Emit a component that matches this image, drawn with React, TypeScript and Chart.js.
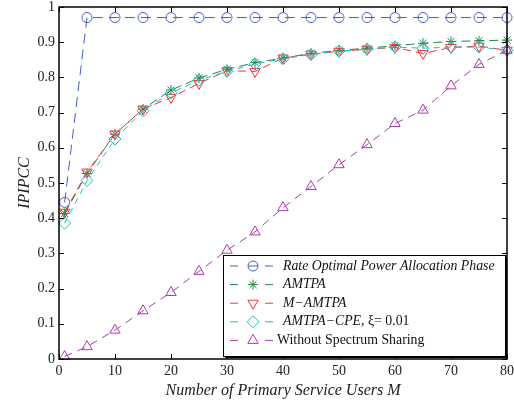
import React, { useEffect, useRef } from "react";
import { Chart, registerables } from "chart.js";
import { drawPoint } from "chart.js/helpers";

Chart.register(...registerables);

const users = [1, 5, 10, 15, 20, 25, 30, 35, 40, 45, 50, 55, 60, 65, 70, 75, 80];
const rateOptimal = [0.445, 0.97, 0.97, 0.97, 0.97, 0.97, 0.97, 0.97, 0.97, 0.97, 0.97, 0.97, 0.97, 0.97, 0.97, 0.97, 0.97];
const amtpa = [0.413, 0.527, 0.639, 0.71, 0.764, 0.798, 0.823, 0.842, 0.855, 0.868, 0.877, 0.883, 0.89, 0.897, 0.902, 0.904, 0.906];
const mAmtpa = [0.417, 0.531, 0.639, 0.71, 0.743, 0.783, 0.819, 0.817, 0.855, 0.866, 0.874, 0.88, 0.885, 0.868, 0.885, 0.889, 0.877];
const amtpaCpe = [0.386, 0.507, 0.625, 0.705, 0.756, 0.792, 0.817, 0.838, 0.853, 0.865, 0.875, 0.88, 0.886, 0.883, 0.886, 0.886, 0.877];
const withoutSharing = [0.007, 0.035, 0.082, 0.137, 0.189, 0.249, 0.309, 0.361, 0.43, 0.49, 0.552, 0.609, 0.669, 0.707, 0.776, 0.837, 0.877];

const FONT = "'Liberation Serif', 'Times New Roman', serif";

const BLUE = "rgb(70,95,195)";
const GREEN = "rgb(30,135,75)";
const RED = "rgb(250,50,50)";
const CYAN = "rgb(30,190,195)";
const PURPLE = "rgb(170,60,170)";

type Seg = { t: string; italic: boolean };
const legendItems: { color: string; style: string; rot: number; radius: number; segs: Seg[] }[] = [
  { color: BLUE, style: "circle", rot: 0, radius: 5, segs: [{ t: "Rate Optimal Power Allocation Phase", italic: true }] },
  { color: GREEN, style: "star", rot: 0, radius: 5, segs: [{ t: "AMTPA", italic: true }] },
  { color: RED, style: "triangle", rot: 180, radius: 6, segs: [{ t: "M\u2212AMTPA", italic: true }] },
  { color: CYAN, style: "rectRot", rot: 0, radius: 6, segs: [{ t: "AMTPA\u2212CPE,", italic: true }, { t: " \u03be= 0.01", italic: false }] },
  { color: PURPLE, style: "triangle", rot: 0, radius: 6, segs: [{ t: "Without Spectrum Sharing", italic: false }] },
];

const frame = {
  id: "frame",
  afterDatasetsDraw(chart: any) {
    const { ctx, chartArea: a, scales } = chart;
    ctx.save();
    ctx.strokeStyle = "#000";
    ctx.lineWidth = 1.5;
    ctx.setLineDash([]);
    ctx.strokeRect(a.left, a.top, a.right - a.left, a.bottom - a.top);
    ctx.lineWidth = 1;
    const tl = 5;
    scales.x.ticks.forEach((t: any) => {
      const px = Math.round(scales.x.getPixelForValue(t.value)) + 0.5;
      ctx.beginPath();
      ctx.moveTo(px, a.bottom);
      ctx.lineTo(px, a.bottom - tl);
      ctx.moveTo(px, a.top);
      ctx.lineTo(px, a.top + tl);
      ctx.stroke();
    });
    scales.y.ticks.forEach((t: any) => {
      const py = Math.round(scales.y.getPixelForValue(t.value)) + 0.5;
      ctx.beginPath();
      ctx.moveTo(a.left, py);
      ctx.lineTo(a.left + tl, py);
      ctx.moveTo(a.right, py);
      ctx.lineTo(a.right - tl, py);
      ctx.stroke();
    });

    // legend
    const right = a.right - 2;
    const bottom = a.bottom - 3;
    const w = 282;
    const h = 101;
    const left = right - w;
    const top = bottom - h;
    ctx.fillStyle = "#000";
    ctx.fillRect(left + 2, top + 2, w, h);
    ctx.fillStyle = "#fff";
    ctx.fillRect(left, top, w, h);
    ctx.strokeStyle = "#000";
    ctx.lineWidth = 1;
    ctx.strokeRect(left + 0.5, top + 0.5, w, h);
    ctx.textBaseline = "middle";
    ctx.textAlign = "left";
    legendItems.forEach((it, i) => {
      const y = top + 11 + i * 18.6;
      ctx.strokeStyle = it.color;
      ctx.lineWidth = 1;
      ctx.beginPath();
      ctx.moveTo(left + 7, y);
      ctx.lineTo(left + 15, y);
      ctx.moveTo(left + 42, y);
      ctx.lineTo(left + 50, y);
      ctx.stroke();
      ctx.fillStyle = "rgba(0,0,0,0)";
      drawPoint(ctx, { pointStyle: it.style, rotation: it.rot, radius: it.radius, borderWidth: 1 } as any, left + 30, y);
      let x = it.segs[0].italic ? left + 60 : left + 54;
      ctx.fillStyle = "#111";
      it.segs.forEach((s) => {
        ctx.font = `${s.italic ? "italic " : ""}13.8px ${FONT}`;
        ctx.fillText(s.t, x, y);
        x += ctx.measureText(s.t).width;
      });
      if (it.style === "circle") {
        ctx.strokeStyle = it.color;
        ctx.beginPath();
        ctx.moveTo(left + 25, y);
        ctx.lineTo(left + 35, y);
        ctx.stroke();
      }
    });
    ctx.restore();
  },
};

function ds(label: string, values: number[], color: string, style: string, rot: number, radius: number, dash: number[]) {
  return {
    label,
    data: users.map((u, i) => ({ x: u, y: values[i] })),
    borderColor: color,
    backgroundColor: "rgba(0,0,0,0)",
    pointBorderColor: color,
    pointBackgroundColor: "rgba(0,0,0,0)",
    pointStyle: style,
    rotation: rot,
    pointRadius: radius,
    pointBorderWidth: 1,
    borderWidth: 1,
    borderDash: dash,
    tension: 0,
    clip: false as any,
  };
}

export default function App() {
  const ref = useRef<HTMLCanvasElement>(null);
  useEffect(() => {
    document.body.style.margin = "0";
    const chart = new Chart(ref.current!, {
      type: "line",
      data: {
        datasets: [
          ds("Without Spectrum Sharing", withoutSharing, PURPLE, "triangle", 0, 6, [8, 6]),
          ds("AMTPA-CPE", amtpaCpe, CYAN, "rectRot", 0, 6, [6, 5]),
          ds("M-AMTPA", mAmtpa, RED, "triangle", 180, 6, [8, 5]),
          ds("AMTPA", amtpa, GREEN, "star", 0, 5, [9, 5]),
          ds("Rate Optimal Power Allocation Phase", rateOptimal, BLUE, "circle", 0, 5, [10, 6]),
        ],
      },
      options: {
        animation: false,
        responsive: false,
        devicePixelRatio: 1,
        layout: { padding: { left: 0, right: 7, top: 6, bottom: 0 } },
        plugins: { legend: { display: false }, tooltip: { enabled: false } },
        scales: {
          x: {
            type: "linear",
            min: 0,
            max: 80,
            grid: { display: false, drawTicks: false },
            border: { display: false },
            ticks: { stepSize: 10, padding: 4, color: "#222", font: { family: FONT, size: 14 }, maxRotation: 0 },
            title: { display: true, text: "Number of Primary Service Users M", color: "#222", font: { family: FONT, size: 16, style: "italic" }, padding: { top: 2, bottom: 0 } },
            afterFit: (s: any) => {
              s.height = 41;
              s.paddingLeft = 0;
              s.paddingRight = 0;
            },
          },
          y: {
            type: "linear",
            min: 0,
            max: 1,
            grid: { display: false, drawTicks: false },
            border: { display: false },
            ticks: {
              stepSize: 0.1,
              padding: 4,
              color: "#222",
              font: { family: FONT, size: 14 },
              callback: (v: any) => String(Number(Number(v).toFixed(1))),
            },
            title: { display: true, text: "IPIPCC", color: "#222", font: { family: FONT, size: 16, style: "italic" }, padding: { top: 15, bottom: 0 } },
            afterFit: (s: any) => {
              s.width = 59;
              s.paddingTop = 0;
              s.paddingBottom = 0;
            },
          },
        },
      },
      plugins: [frame],
    });
    return () => chart.destroy();
  }, []);
  return <canvas ref={ref} width={514} height={400} style={{ display: "block", width: 514, height: 400 }} />;
}
